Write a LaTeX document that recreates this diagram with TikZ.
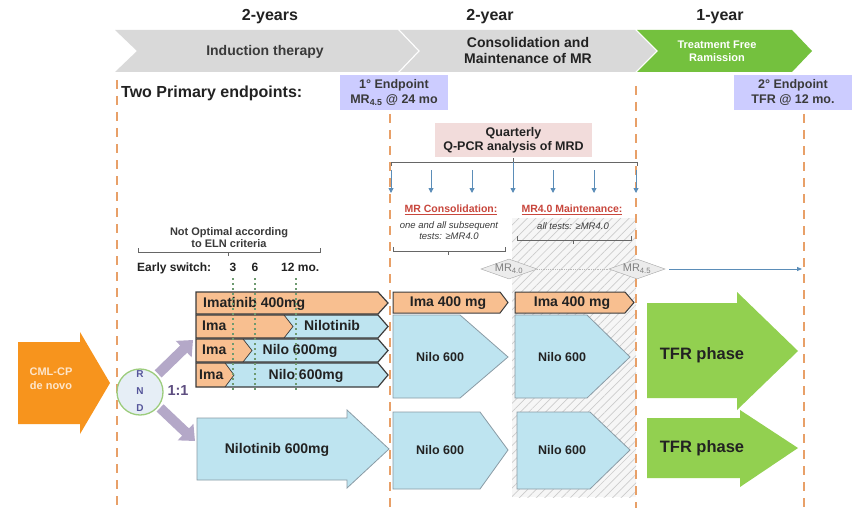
\documentclass[tikz,border=0pt]{standalone}
\usepackage{fontspec}
\setmainfont{Liberation Sans}
\usetikzlibrary{arrows.meta,patterns.meta,shapes.geometric}
\definecolor{chevgray}{HTML}{D9D9D9}
\definecolor{chevgreen}{HTML}{74C13E}
\definecolor{tfrgreen}{HTML}{92D050}
\definecolor{dashor}{HTML}{E8A068}
\definecolor{lav}{HTML}{CCCCFF}
\definecolor{pinkbox}{HTML}{F2DCDB}
\definecolor{barorange}{HTML}{F8BF90}
\definecolor{barblue}{HTML}{BEE4F0}
\definecolor{cmlorange}{HTML}{F7941D}
\definecolor{rndpurple}{HTML}{B4A8C8}
\definecolor{rndgreen}{HTML}{9CCC7C}
\definecolor{rndfill}{HTML}{E6EEF6}
\definecolor{arrblue}{HTML}{5B8DB8}
\definecolor{txtdark}{HTML}{222222}
\definecolor{txtgray}{HTML}{3A3A3A}
\definecolor{redlab}{HTML}{C8463C}
\definecolor{bardark}{HTML}{3C3C3C}
\definecolor{pentborder}{HTML}{8A9BA5}
\definecolor{dotgreen}{HTML}{6E9A70}
\definecolor{lettercol}{HTML}{55559A}
\definecolor{ratiocol}{HTML}{5E4E80}
\definecolor{cmltext}{HTML}{FDE6CC}
\newcommand\myfs[1]{\fontsize{#1}{#1}\selectfont}
\begin{document}
\begin{tikzpicture}[x=1pt,y=-1pt,
  txt/.style={inner sep=0pt, text=txtdark},
  dashv/.style={draw=dashor, line width=2.5pt, dash pattern=on 9pt off 7pt},
  barline/.style={draw=bardark, line width=1.2pt},
  bartxt/.style={txt, font=\bfseries\myfs{14}, anchor=mid, yshift=-1.8pt},
  pent/.style={fill=barblue, draw=pentborder, line width=0.8pt},
  brack/.style={draw=gray!80!black, line width=0.7pt},
  qarrow/.style={draw=arrblue, line width=0.9pt, -{Triangle[length=5pt,width=5pt]}},
  dotg/.style={draw=dotgreen, line width=2pt, dash pattern=on 2pt off 3pt},
  diam/.style={diamond, draw=gray!70, fill=gray!15, minimum width=55pt, minimum height=20pt, inner sep=0pt, aspect=3, text=gray, font=\myfs{11}},
  bigarrow/.style={draw=rndpurple, line width=10pt, -{Triangle[length=13pt,width=22pt]}}
]
\useasboundingbox (0,0) rectangle (856,508);
\fill[white] (0,0) rectangle (856,508);

% header chevrons
\fill[chevgray] (115,30) -- (398,30) -- (418,51) -- (398,72) -- (115,72) -- (137,51) -- cycle;
\fill[chevgray] (400,30) -- (635,30) -- (656,51) -- (635,72) -- (400,72) -- (420,51) -- cycle;
\fill[chevgreen] (637,30) -- (792,30) -- (812,51) -- (792,72) -- (637,72) -- (658,51) -- cycle;

\node[txt, font=\bfseries\myfs{16}] (y1) at (270,17) {2-years};
\node[txt, font=\bfseries\myfs{16}] (y2) at (490,17) {2-year};
\node[txt, font=\bfseries\myfs{16}] (y3) at (720,17) {1-year};
\node[txt, text=txtgray, font=\bfseries\myfs{14}] (induct) at (265,52) {Induction therapy};
\node[txt, align=center, font=\bfseries\fontsize{14}{16}\selectfont] (consol) at (528,50) {Consolidation and\\Maintenance of MR};
\node[txt, align=center, text=white, font=\bfseries\fontsize{11}{13}\selectfont] (tfrh) at (717,51) {Treatment Free\\Ramission};

% hatched maintenance area
\fill[gray!7] (512,218) rectangle (636,497);
\fill[pattern={Lines[angle=45,distance=6pt,line width=0.7pt]}, pattern color=gray!40] (512,218) rectangle (636,497);

% dashed verticals
\draw[dashv] (117,80) -- (117,508);
\draw[dashv] (390,114) -- (390,508);
\draw[dashv] (636,86) -- (636,508);
\draw[dashv] (804,114) -- (804,508);

% endpoints
\node[txt, anchor=mid west, font=\bfseries\myfs{16}] (tpe) at (121,95) {Two Primary endpoints:};
\node[fill=lav, minimum width=108pt, minimum height=35pt, inner sep=0pt, align=center, text=txtgray, font=\bfseries\fontsize{12.5}{14.5}\selectfont] (ep1) at (394,92.5) {1° Endpoint\\MR\textsubscript{4.5} @ 24 mo};
\node[fill=lav, minimum width=118pt, minimum height=35pt, inner sep=0pt, align=center, text=txtgray, font=\bfseries\fontsize{12.5}{14.5}\selectfont] (ep2) at (793,92.5) {2° Endpoint\\TFR @ 12 mo.};

% quarterly
\node[fill=pinkbox, minimum width=157pt, minimum height=34pt, inner sep=0pt, align=center, text=txtdark, font=\bfseries\fontsize{12.5}{14}\selectfont] (qpcr) at (513.5,140) {Quarterly\\Q-PCR analysis of MRD};
\draw[brack] (391,166) -- (391,162) -- (637,162) -- (637,166);
\draw[brack] (513,162) -- (513,158);
\foreach \xx/\nm in {391/a,431/b,472/c,553/e,594/f,636/g}{
  \coordinate (qs\nm) at (\xx,170);
  \coordinate (qe\nm) at (\xx,193);
  \draw[qarrow] (qs\nm) -- (qe\nm);
}
\coordinate (qsd) at (513,162);
\coordinate (qed) at (513,193);
\draw[qarrow] (qsd) -- (qed);

% consolidation / maintenance labels
\node[txt, text=redlab, font=\bfseries\myfs{10.5}] (mrc) at (451,210) {\underline{MR Consolidation:}};
\node[txt, text=redlab, font=\bfseries\myfs{10.5}] (mrm) at (572,210) {\underline{MR4.0 Maintenance:}};
\node[txt, text=txtgray, align=center, font=\itshape\fontsize{9.5}{11}\selectfont] (mrct) at (449,231) {one and all subsequent\\tests: ≥MR4.0};
\node[txt, text=txtgray, font=\itshape\myfs{9.5}] (mrmt) at (573,226) {all tests: ≥MR4.0};
\draw[brack] (393,247) -- (393,251) -- (505,251) -- (505,247);
\draw[brack] (448,251) -- (448,255);
\draw[brack] (517,236) -- (517,240) -- (631,240) -- (631,236);
\draw[brack] (573,240) -- (573,244);

% diamonds
\node[diam] (d40) at (509,269) {MR\textsubscript{4.0}};
\node[diam] (d45) at (637,269) {MR\textsubscript{4.5}};
\draw[gray!55, densely dotted, line width=0.8pt] (d40) -- (d45);
\coordinate (tfrend) at (802,269);
\draw[arrblue, line width=0.8pt, -{Triangle[length=5pt,width=4pt]}, shorten <=4pt] (d45) -- (tfrend);

% not optimal
\node[txt, text=txtgray, align=center, font=\bfseries\fontsize{11}{12}\selectfont] (notopt) at (229,238) {Not Optimal according\\to ELN criteria};
\draw[brack] (138,248) -- (138,252) -- (320,252) -- (320,248);
\draw[brack] (228,252) -- (228,256);
\node[txt, anchor=mid west, font=\bfseries\myfs{12}] (es) at (137,269) {Early switch:};
\node[txt, anchor=mid, font=\bfseries\myfs{12}] (sw3) at (233,269) {3};
\node[txt, anchor=mid, font=\bfseries\myfs{12}] (sw6) at (255,269) {6};
\node[txt, anchor=mid west, font=\bfseries\myfs{12}] (sw12) at (281,269) {12 mo.};

% left bars
\filldraw[fill=barorange, barline] (196,292) -- (378,292) -- (388,303) -- (378,314) -- (196,314) -- cycle;
% bar 2
\fill[barblue] (196,315) -- (378,315) -- (388,326.5) -- (378,338) -- (196,338) -- cycle;
\fill[barorange] (196,315) -- (284,315) -- (293,326.5) -- (284,338) -- (196,338) -- cycle;
\draw[bardark, line width=0.7pt] (284,315) -- (293,326.5) -- (284,338);
\draw[barline] (196,315) -- (378,315) -- (388,326.5) -- (378,338) -- (196,338) -- cycle;
% bar 3
\fill[barblue] (196,339) -- (378,339) -- (388,350.5) -- (378,362) -- (196,362) -- cycle;
\fill[barorange] (196,339) -- (243,339) -- (252,350.5) -- (243,362) -- (196,362) -- cycle;
\draw[bardark, line width=0.7pt] (243,339) -- (252,350.5) -- (243,362);
\draw[barline] (196,339) -- (378,339) -- (388,350.5) -- (378,362) -- (196,362) -- cycle;
% bar 4
\fill[barblue] (196,363) -- (378,363) -- (388,375) -- (378,387) -- (196,387) -- cycle;
\fill[barorange] (196,363) -- (225,363) -- (234,375) -- (225,387) -- (196,387) -- cycle;
\draw[bardark, line width=0.7pt] (225,363) -- (234,375) -- (225,387);
\draw[barline] (196,363) -- (378,363) -- (388,375) -- (378,387) -- (196,387) -- cycle;

\node[bartxt, anchor=mid west] (b1t) at (203,303) {Imatinib 400mg};
\node[bartxt, anchor=mid west] (b2a) at (202,326.5) {Ima};
\node[bartxt] (b2b) at (332,326.5) {Nilotinib};
\node[bartxt, anchor=mid west] (b3a) at (202,350.5) {Ima};
\node[bartxt] (b3b) at (300,350.5) {Nilo 600mg};
\node[bartxt, anchor=mid west] (b4a) at (199,375) {Ima};
\node[bartxt] (b4b) at (306,375) {Nilo 600mg};

% early switch dotted lines
\foreach \xx/\nm in {233/a,255/b,296/c}{
  \coordinate (ds\nm) at (\xx,278);
  \coordinate (de\nm) at (\xx,390);
  \draw[dotg] (ds\nm) -- (de\nm);
}

% bottom left nilotinib arrow
\filldraw[pent] (197,418) -- (347,418) -- (347,410) -- (389,449) -- (347,488) -- (347,480) -- (197,480) -- cycle;
\node[bartxt] (nil600) at (277,449) {Nilotinib 600mg};

% right bars
\filldraw[fill=barorange, draw=bardark, line width=1pt] (393,292) -- (500,292) -- (508,302.5) -- (500,313) -- (393,313) -- cycle;
\filldraw[fill=barorange, draw=bardark, line width=1pt] (515,292) -- (625,292) -- (634,302.5) -- (625,313) -- (515,313) -- cycle;
\node[bartxt] (ima1) at (448,302.5) {Ima 400 mg};
\node[bartxt] (ima2) at (572,302.5) {Ima 400 mg};

\filldraw[pent] (393,315) -- (460,315) -- (508,357) -- (460,398) -- (393,398) -- cycle;
\filldraw[pent] (515,315) -- (587,315) -- (630,357) -- (587,398) -- (515,398) -- cycle;
\filldraw[pent] (393,412) -- (480,412) -- (508,450) -- (480,489) -- (393,489) -- cycle;
\filldraw[pent] (517,412) -- (590,412) -- (630,450) -- (590,489) -- (517,489) -- cycle;
\node[txt, anchor=mid, yshift=-1.5pt, font=\bfseries\myfs{12.5}] (n1) at (440,357) {Nilo 600};
\node[txt, anchor=mid, yshift=-1.5pt, font=\bfseries\myfs{12.5}] (n2) at (562,357) {Nilo 600};
\node[txt, anchor=mid, yshift=-1.5pt, font=\bfseries\myfs{12.5}] (n3) at (440,450) {Nilo 600};
\node[txt, anchor=mid, yshift=-1.5pt, font=\bfseries\myfs{12.5}] (n4) at (562,450) {Nilo 600};

% TFR arrows
\fill[tfrgreen] (647,303) -- (737,303) -- (737,292) -- (798,351) -- (737,410) -- (737,398) -- (647,398) -- cycle;
\fill[tfrgreen] (647,418) -- (740,418) -- (740,410) -- (798,448) -- (740,487) -- (740,478) -- (647,478) -- cycle;
\node[txt, anchor=mid, yshift=-2pt, font=\bfseries\myfs{16.5}] (tfr1) at (702,355) {TFR phase};
\node[txt, anchor=mid, yshift=-2pt, font=\bfseries\myfs{16.5}] (tfr2) at (702,448) {TFR phase};

% CML-CP arrow
\fill[cmlorange] (18,342) -- (80,342) -- (80,332) -- (110,383) -- (80,434) -- (80,424) -- (18,424) -- cycle;
\node[txt, text=cmltext, align=center, font=\bfseries\fontsize{11}{14}\selectfont] (cml) at (51,379) {CML-CP\\de novo};

% RND
\node[circle, draw=rndgreen, line width=1.3pt, fill=rndfill, minimum size=46pt, inner sep=0pt] (rnd) at (140,392) {};
\node[txt, text=lettercol, anchor=mid, font=\bfseries\myfs{10}] (lr) at (140,375) {R};
\node[txt, text=lettercol, anchor=mid, font=\bfseries\myfs{10}] (ln) at (140,392) {N};
\node[txt, text=lettercol, anchor=mid, font=\bfseries\myfs{10}] (ld) at (140,409) {D};
\node[txt, text=ratiocol, anchor=mid, font=\bfseries\myfs{14.5}] (ratio) at (178,393) {1:1};

\coordinate (uptip) at (193,340);
\coordinate (dntip) at (195,441);
\draw[bigarrow, shorten <=2pt] (rnd.45) -- (uptip);
\draw[bigarrow, shorten <=2pt] (rnd.-38) -- (dntip);
\end{tikzpicture}
\end{document}
